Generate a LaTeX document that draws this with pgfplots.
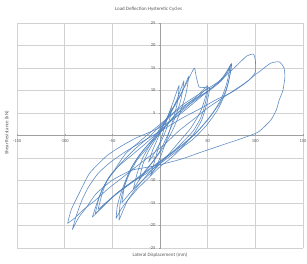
\documentclass[border=0pt]{standalone}
\usepackage{fontspec}
\setmainfont{Carlito}
\usepackage{pgfplots}
\pgfplotsset{compat=1.18}
\definecolor{xlblue}{RGB}{79,129,189}
\definecolor{txt}{RGB}{89,89,89}
\begin{document}
\begin{tikzpicture}
\begin{axis}[
  name=ax, scale only axis, width=286pt, height=225pt,
  xmin=-150, xmax=150, ymin=-25, ymax=25,
  axis lines=middle, axis line style={gray!75, line width=0.4pt, -},
  grid=major, grid style={gray!35, line width=0.4pt},
  xtick={-150,-100,-50,0,50,100,150}, ytick={-25,-20,-15,-10,-5,0,5,10,15,20,25},
  xticklabels={-150,-100,-50,,50,100,150},
  yticklabels={-25,-20,-15,-10,-5,0,5,10,15,20,25},
  /pgf/number format/assume math mode=true,
  tick label style={font=\fontsize{4.5}{5}\selectfont, text=txt},
  major tick length=2pt, tick style={gray!75, line width=0.3pt},
  every axis plot post/.append style={color=xlblue, solid, mark=none, line width=0.6pt, opacity=0.9, smooth, tension=0.35},
  clip=false,
]
% small loops
\addplot coordinates {(-12,-6) (-8,-3.5) (-4,-1.5) (0,0.5) (4,2.5) (8,4.2) (12,6) (10,3.5) (6,1) (2,-1) (-2,-2.5) (-6,-4) (-12,-6)};
\addplot coordinates {(-22,-10) (-18,-6.5) (-12,-3.5) (-5,-1) (2,1.5) (10,4.5) (18,8) (25,12) (22,8) (16,4) (8,0) (0,-3.5) (-8,-6) (-15,-8) (-22,-10)};
\addplot coordinates {(-10,-9) (-6,-6) (-2,-3) (3,0.5) (8,4) (14,7.5) (20,11) (18,7) (13,3) (7,-1) (1,-4.5) (-4,-7) (-10,-9)};
\addplot coordinates {(-28,-12) (-24,-8.5) (-18,-5) (-10,-2) (-2,0.5) (6,3) (14,6) (22,9) (30,13) (27,9) (21,5) (13,1) (4,-2.5) (-6,-5.5) (-16,-8) (-28,-12)};
% 50 mm cycles
\addplot coordinates {(-46,-18.5) (-45,-16) (-42,-13.5) (-36,-10) (-28,-6.5) (-18,-3.5) (-8,-1) (0,1.5) (8,4) (16,7) (24,10) (30,12.5) (36,14.9) (38,13) (41,10.7) (46,10.6) (52,10.5) (49,7) (44,3.5) (36,0.5) (24,-2.5) (12,-5) (0,-7) (-12,-9.5) (-24,-12) (-34,-14.5) (-41,-16.5) (-46,-18.5)};
\addplot coordinates {(-43,-18.9) (-42,-15.5) (-39,-12.5) (-33,-9) (-24,-5.5) (-14,-3) (-4,-0.5) (6,2) (16,4.5) (28,6.5) (40,8.5) (50,10.5) (48,7.5) (43,4) (35,1) (24,-1.5) (12,-4) (0,-6) (-12,-8.5) (-24,-11.5) (-34,-14.5) (-43,-18.9)};
\addplot coordinates {(-40,-15) (-37,-11) (-32,-8) (-22,-4.5) (-10,-1.5) (2,1) (14,4) (26,6.5) (38,8.5) (50,11) (47,8) (42,5) (32,1.5) (20,-1.5) (8,-4.5) (-5,-7.5) (-18,-10) (-30,-12.5) (-40,-15)};
% 75 mm cycles
\addplot coordinates {(-71,-18.2) (-66,-15) (-61,-12.2) (-54,-9.5) (-48,-7.8) (-36,-4.1) (-22,-1.5) (-8,1) (6,3.5) (22,6.5) (40,9) (55,11) (65,12.5) (70,14) (75,15.8) (72,12) (68,9) (60,5.5) (48,2) (34,-1) (18,-3.5) (2,-6) (-14,-8.5) (-30,-10.5) (-46,-13) (-58,-15.5) (-71,-18.2)};
\addplot coordinates {(-68,-17.5) (-64,-14) (-58,-11) (-50,-8.5) (-40,-6) (-26,-3) (-12,-0.5) (2,2.5) (18,5.5) (36,8) (52,10) (64,12) (71,14) (74,15.6) (70,11.5) (64,8) (54,4.5) (40,1) (24,-2) (8,-4.5) (-8,-7) (-24,-9.5) (-40,-12) (-54,-14.5) (-68,-17.5)};
\addplot coordinates {(-65,-16.5) (-60,-12.5) (-54,-9.5) (-44,-7) (-30,-4.5) (-16,-2) (0,1) (16,4) (32,7) (48,9.5) (60,11.5) (68,13.5) (75,15.8) (73,13) (70,10.5) (64,7.5) (52,4) (38,0.5) (22,-2.5) (6,-5) (-10,-7.5) (-26,-10) (-42,-12.5) (-54,-14.5) (-65,-16.5)};
% 100 mm cycle
\addplot coordinates {(-97,-19.6) (-93,-16.5) (-85,-13) (-74,-8.5) (-57,-4.8) (-45,-3) (-26,-0.7) (-2,1.5) (20,4.5) (40,8) (60,11.5) (78,15) (91,17.6) (98,18) (100,16.7) (100,14) (93,12.2) (78,10) (65,8.2) (51,6.2) (35,3.5) (20,1) (5,-2) (-10,-4.5) (-25,-7) (-40,-9.5) (-55,-12) (-68,-14.5) (-80,-16.5) (-90,-18.5) (-97,-19.6)};
% 130 mm cycle
\addplot coordinates {(-92,-21) (-88,-18) (-82,-14.5) (-75,-11.5) (-65,-8.5) (-52,-6) (-35,-3.5) (-15,-1) (5,1.5) (25,4) (45,6.2) (58,7.8) (75,9.5) (89,11.5) (99,13.3) (106,14.4) (116,16) (125,16.3) (130,15) (131,13) (129,10) (125,7.8) (122,5.6) (116,3.3) (103,0.7) (86,-0.7) (65,-2.2) (44,-3.7) (24,-5.2) (5,-6.3) (-10,-7) (-30,-7.8) (-50,-10) (-67,-13) (-77,-16) (-85,-18.2) (-92,-21)};
\node[font=\fontsize{5}{6}\selectfont, text=txt] at (rel axis cs:0.46,1) [yshift=13.7pt] {Load Deflection Hysteretic Cycles};
\node[font=\fontsize{5}{6}\selectfont, text=txt] at (rel axis cs:0.5,0) [yshift=-7.5pt] {Lateral Displacement (mm)};
\node[font=\fontsize{5}{6}\selectfont, text=txt, xshift=-10pt, rotate=90] at (rel axis cs:0,0.51) {Shear Resistance (kN)};
\end{axis}
\pgfresetboundingbox
\path[use as bounding box] ([shift={(-17pt,-15.3pt)}]ax.south west) rectangle ([shift={(4pt,22.7pt)}]ax.north east);
\end{tikzpicture}
\end{document}
